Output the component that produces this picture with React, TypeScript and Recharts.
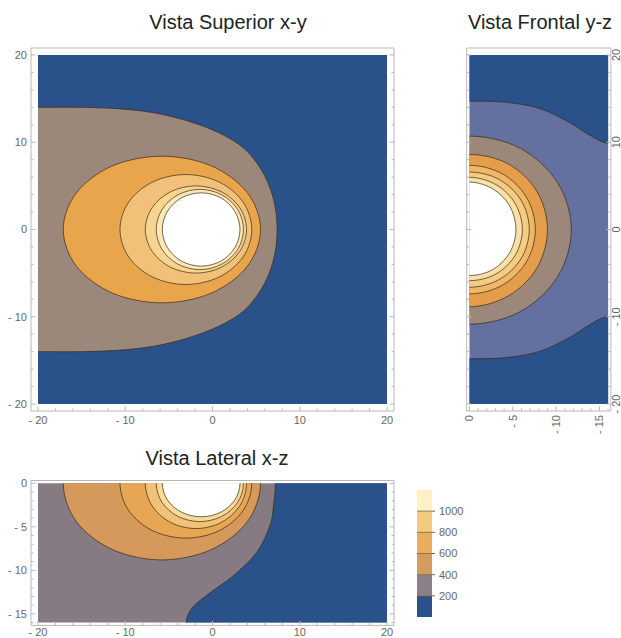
import React from "react";
import { ScatterChart, Scatter, XAxis, YAxis, BarChart, Bar, ReferenceLine } from "recharts";

type Pt = [number, number];
type Region = { curve: Pt[]; edge?: Pt[]; ring?: boolean; fill: string };
type XY = { x: number; y: number };

const FONT = '"Liberation Sans", Arial, Helvetica, sans-serif';
const LINE = "rgba(60,42,20,0.7)";
const FRAME = "#b8b8b8";
const LABEL = "#666";

// tick values
const XY_MAJOR = [-20, -10, 0, 10, 20];
const XY_TICKS = [-20, -18, -16, -14, -12, -10, -8, -6, -4, -2, 0, 2, 4, 6, 8, 10, 12, 14, 16, 18, 20];
const Z_MAJOR = [0, -5, -10, -15];
const Z_TICKS = [0, -1, -2, -3, -4, -5, -6, -7, -8, -9, -10, -11, -12, -13, -14, -15, -16];

// ---- Vista Superior x-y (x, y) ----
const TOP_BG: Pt[] = [[-20, 20], [20, 20], [20, -20], [-20, -20]];
const TOP_GRAY: Pt[] = [[-20, 14], [-15, 14], [-11, 13.85], [-7.5, 13.5], [-4.5, 12.9], [-1.5, 12.0], [1.3, 10.8], [3.6, 9.3], [5.3, 7.3], [6.5, 5.0], [7.2, 2.5], [7.4, 0], [7.2, -2.5], [6.5, -5.0], [5.3, -7.3], [3.6, -9.3], [1.3, -10.8], [-1.5, -12.0], [-4.5, -12.9], [-7.5, -13.5], [-11, -13.85], [-15, -14], [-20, -14]];
const TOP_A: Pt[] = [[5.5, 0], [4.0, 4.2], [-0.15, 7.3], [-5.8, 8.4], [-11.45, 7.3], [-15.6, 4.2], [-17.1, 0], [-15.6, -4.2], [-11.45, -7.3], [-5.8, -8.4], [-0.15, -7.3], [4.0, -4.2]];
const TOP_B: Pt[] = [[4.5, 0], [3.5, 3.15], [0.73, 5.46], [-3.05, 6.3], [-6.83, 5.46], [-9.6, 3.15], [-10.6, 0], [-9.6, -3.15], [-6.83, -5.46], [-3.05, -6.3], [0.73, -5.46], [3.5, -3.15]];
const TOP_C: Pt[] = [[3.9, 0], [3.12, 2.5], [1.0, 4.33], [-1.9, 5.0], [-4.8, 4.33], [-6.92, 2.5], [-7.7, 0], [-6.92, -2.5], [-4.8, -4.33], [-1.9, -5.0], [1.0, -4.33], [3.12, -2.5]];
const TOP_D: Pt[] = [[3.55, 0], [2.88, 2.3], [1.05, 3.98], [-1.45, 4.6], [-3.95, 3.98], [-5.78, 2.3], [-6.45, 0], [-5.78, -2.3], [-3.95, -3.98], [-1.45, -4.6], [1.05, -3.98], [2.88, -2.3]];
const TOP_E: Pt[] = [[3.15, 0], [2.55, 2.1], [0.93, 3.64], [-1.3, 4.2], [-3.53, 3.64], [-5.15, 2.1], [-5.75, 0], [-5.15, -2.1], [-3.53, -3.64], [-1.3, -4.2], [0.93, -3.64], [2.55, -2.1]];

// ---- Vista Frontal y-z (z horizontal, y vertical) ----
const FRONT_BG: Pt[] = [[0, 20], [-16, 20], [-16, -20], [0, -20]];
const FRONT_BLUE_TOP: Pt[] = [[0, 14.7], [-4, 14.6], [-8, 13.9], [-11.5, 12.3], [-13.9, 10.8], [-16, 9.9]];
const FRONT_BLUE_TOP_EDGE: Pt[] = [[-16, 20], [0, 20]];
const FRONT_BLUE_BOT: Pt[] = [[0, -14.8], [-4, -14.7], [-8, -14.0], [-11.5, -12.4], [-13.9, -10.9], [-16, -10.0]];
const FRONT_BLUE_BOT_EDGE: Pt[] = [[-16, -20], [0, -20]];
const FRONT_G: Pt[] = [[0, 10.7], [-5.88, 9.3], [-10.18, 5.35], [-11.75, 0], [-10.18, -5.4], [-5.88, -9.4], [0, -10.85]];
const FRONT_O: Pt[] = [[0, 8.6], [-4.5, 7.5], [-7.79, 4.35], [-9.0, 0], [-7.79, -4.4], [-4.5, -7.6], [0, -8.85]];
const FRONT_L: Pt[] = [[0, 7.35], [-3.8, 6.38], [-6.58, 3.69], [-7.6, 0], [-6.58, -3.69], [-3.8, -6.38], [0, -7.38]];
const FRONT_M: Pt[] = [[0, 6.58], [-3.45, 5.72], [-5.98, 3.3], [-6.9, 0], [-5.98, -3.3], [-3.45, -5.72], [0, -6.62]];
const FRONT_P: Pt[] = [[0, 5.98], [-3.05, 5.15], [-5.28, 2.97], [-6.1, 0], [-5.28, -2.95], [-3.05, -5.1], [0, -5.86]];
const FRONT_W: Pt[] = [[0, 5.43], [-2.68, 4.66], [-4.64, 2.7], [-5.36, 0], [-4.64, -2.66], [-2.68, -4.6], [0, -5.28]];

// ---- Vista Lateral x-z (x, z) ----
const SIDE_BG: Pt[] = [[-20, 0], [20, 0], [20, -16], [-20, -16]];
const SIDE_BLUE: Pt[] = [[7.2, 0], [7.0, -2.5], [6.6, -4.8], [5.1, -7.9], [2.4, -10.6], [-0.7, -12.9], [-2.4, -14.4], [-3.0, -16]];
const SIDE_BLUE_EDGE: Pt[] = [[20, -16], [20, 0]];
const SIDE_A: Pt[] = [[5.5, 0], [4.0, -4.4], [-0.15, -7.62], [-5.8, -8.8], [-11.45, -7.62], [-15.6, -4.4], [-17.1, 0]];
const SIDE_B: Pt[] = [[4.5, 0], [3.49, -3.15], [0.73, -5.46], [-3.05, -6.3], [-6.83, -5.46], [-9.59, -3.15], [-10.6, 0]];
const SIDE_C: Pt[] = [[3.9, 0], [3.12, -2.6], [1.0, -4.5], [-1.9, -5.2], [-4.8, -4.5], [-6.92, -2.6], [-7.7, 0]];
const SIDE_D: Pt[] = [[3.55, 0], [2.88, -2.2], [1.05, -3.81], [-1.45, -4.4], [-3.95, -3.81], [-5.78, -2.2], [-6.45, 0]];
const SIDE_E: Pt[] = [[3.15, 0], [2.55, -1.93], [0.93, -3.33], [-1.3, -3.85], [-3.53, -3.33], [-5.15, -1.93], [-5.75, 0]];

// legend
const LEGEND_BANDS = [200, 200, 200, 200, 200, 200];
const LEGEND_TICKS = [200, 400, 600, 800, 1000];
const LEGEND_COLORS = ["#2a538c", "#8b8088", "#d59c61", "#e9ad5e", "#f4c981", "#fdf1c4"];

const BLUE = "#29518a";

const TOP_REGIONS: Region[] = [
  { curve: [], edge: TOP_BG, fill: BLUE },
  { curve: TOP_GRAY, fill: "#9b887b" },
  { curve: TOP_A, ring: true, fill: "#e9a54c" },
  { curve: TOP_B, ring: true, fill: "#f1c17a" },
  { curve: TOP_C, ring: true, fill: "#f7d591" },
  { curve: TOP_D, ring: true, fill: "#fbe8b6" },
  { curve: TOP_E, ring: true, fill: "#ffffff" },
];

const FRONT_REGIONS: Region[] = [
  { curve: [], edge: FRONT_BG, fill: "#6470a0" },
  { curve: FRONT_BLUE_TOP, edge: FRONT_BLUE_TOP_EDGE, fill: BLUE },
  { curve: FRONT_BLUE_BOT, edge: FRONT_BLUE_BOT_EDGE, fill: BLUE },
  { curve: FRONT_G, fill: "#9b887b" },
  { curve: FRONT_O, fill: "#e49e4b" },
  { curve: FRONT_L, fill: "#eeb866" },
  { curve: FRONT_M, fill: "#f5cc84" },
  { curve: FRONT_P, fill: "#f9e0a7" },
  { curve: FRONT_W, fill: "#ffffff" },
];

const SIDE_REGIONS: Region[] = [
  { curve: [], edge: SIDE_BG, fill: "#867b83" },
  { curve: SIDE_BLUE, edge: SIDE_BLUE_EDGE, fill: BLUE },
  { curve: SIDE_A, fill: "#d4995b" },
  { curve: SIDE_B, fill: "#e6a653" },
  { curve: SIDE_C, fill: "#f0c177" },
  { curve: SIDE_D, fill: "#f8da98" },
  { curve: SIDE_E, fill: "#ffffff" },
];

const fmt = (v: number) => (v < 0 ? `- ${-v}` : `${v}`);

function reflect(q: XY, a: XY, b: XY): XY {
  const dx = b.x - a.x;
  const dy = b.y - a.y;
  const l2 = dx * dx + dy * dy || 1;
  const t = ((q.x - a.x) * dx + (q.y - a.y) * dy) / l2;
  const px = a.x + t * dx;
  const py = a.y + t * dy;
  return { x: 2 * px - q.x, y: 2 * py - q.y };
}

// smooth path through contour points (Catmull-Rom); open ends meet the frame edge square
function curvePath(c: XY[], ring: boolean, prev: XY, next: XY): string {
  const n = c.length;
  const at = (i: number): XY => {
    if (ring) return c[((i % n) + n) % n];
    if (i < 0) return reflect(c[1], c[0], prev);
    if (i >= n) return reflect(c[n - 2], c[n - 1], next);
    return c[i];
  };
  let d = `M${c[0].x},${c[0].y}`;
  const segs = ring ? n : n - 1;
  for (let i = 0; i < segs; i++) {
    const p0 = at(i - 1), p1 = at(i), p2 = at(i + 1), p3 = at(i + 2);
    const c1x = p1.x + (p2.x - p0.x) / 6, c1y = p1.y + (p2.y - p0.y) / 6;
    const c2x = p2.x - (p3.x - p1.x) / 6, c2y = p2.y - (p3.y - p1.y) / 6;
    d += `C${c1x},${c1y} ${c2x},${c2y} ${p2.x},${p2.y}`;
  }
  return d;
}

const contourLine = (region: Region) => (props: any) => {
  const n = region.curve.length;
  const pts: XY[] = (props.points || []).map((p: any) => ({ x: p.x, y: p.y }));
  const c = pts.slice(0, n);
  const e = pts.slice(n);
  let fillD = "";
  let strokeD = "";
  if (n === 0) {
    fillD = "M" + e.map((p) => `${p.x},${p.y}`).join("L") + "Z";
  } else {
    const prev = e.length ? e[e.length - 1] : c[n - 1];
    const next = e.length ? e[0] : c[0];
    strokeD = curvePath(c, !!region.ring, prev, next) + (region.ring ? "Z" : "");
    fillD = strokeD + e.map((p) => `L${p.x},${p.y}`).join("") + (region.ring ? "" : "Z");
  }
  return (
    <g>
      <path d={fillD} fill={region.fill} stroke="none" />
      {strokeD && <path d={strokeD} fill="none" stroke={LINE} strokeWidth={1} />}
    </g>
  );
};

const noDot = () => <g />;

const textStyle = { fontSize: 11, fill: LABEL, fontFamily: FONT, stroke: "none" };

const frameTick = (side: string, majors: number[], label: "none" | "plain" | "rot", off = 13) => (p: any) => {
  const { x, y } = p;
  const v = p.payload?.value;
  const major = majors.includes(v);
  const len = major ? 4.5 : 2.5;
  const txt = fmt(v);
  let line = null;
  let text = null;
  if (side === "bottom") {
    line = <line x1={x} y1={y} x2={x} y2={y - len} />;
    if (major && label === "plain")
      text = <text x={x} y={y + off} textAnchor="middle" {...textStyle}>{txt}</text>;
    if (major && label === "rot")
      text = <text transform={`translate(${x},${y + 4}) rotate(-90)`} textAnchor="end" dy="0.35em" {...textStyle}>{txt}</text>;
  } else if (side === "top") {
    line = <line x1={x} y1={y} x2={x} y2={y + len} />;
  } else if (side === "left") {
    line = <line x1={x} y1={y} x2={x + len} y2={y} />;
    if (major && label === "plain")
      text = <text x={x - 4} y={y} dy="0.35em" textAnchor="end" {...textStyle}>{txt}</text>;
  } else {
    line = <line x1={x} y1={y} x2={x - len} y2={y} />;
    if (major && label === "rot")
      text = <text transform={`translate(${x + 5.5},${y}) rotate(-90)`} textAnchor="middle" dy="0.35em" {...textStyle}>{txt}</text>;
  }
  return (
    <g stroke={FRAME} strokeWidth={1}>
      {line}
      {text}
    </g>
  );
};

const toData = (r: Region) => [...r.curve, ...(r.edge || [])].map(([x, y]) => ({ x, y }));

function renderRegions(regions: Region[]) {
  return regions.map((r, i) => (
    <Scatter key={i} data={toData(r)} line={contourLine(r)} shape={noDot} isAnimationActive={false} />
  ));
}

const axisCommon = {
  type: "number" as const,
  allowDataOverflow: true,
  interval: 0 as const,
  tickSize: 0,
  tickMargin: 0,
  tickLine: false,
  axisLine: { stroke: FRAME },
};

const titleStyle = (cx: number, cy: number): React.CSSProperties => ({
  position: "absolute",
  left: cx - 150,
  top: cy - 12,
  width: 300,
  textAlign: "center",
  fontSize: 20,
  lineHeight: "24px",
  color: "#222",
  fontFamily: FONT,
});

export default function App() {
  const legendRow = [
    LEGEND_BANDS.reduce((acc: any, v, i) => ({ ...acc, [`b${i}`]: v }), { name: "scale" }),
  ];
  return (
    <div style={{ position: "absolute", left: 0, top: 0, width: 621, height: 638, overflow: "hidden", background: "#fff", fontFamily: FONT }}>
      <div style={titleStyle(228, 22)}>Vista Superior x-y</div>
      <div style={titleStyle(540, 22)}>Vista Frontal y-z</div>
      <div style={titleStyle(217, 458)}>Vista Lateral x-z</div>

      <div style={{ position: "absolute", left: 0, top: 0 }}>
        <ScatterChart width={400} height={440} margin={{ top: 38, right: 0, bottom: 0, left: 0 }}>
          <XAxis {...axisCommon} dataKey="x" domain={[-20.8, 20.8]} ticks={XY_TICKS} height={29} tick={frameTick("bottom", XY_MAJOR, "plain")} />
          <XAxis {...axisCommon} xAxisId="top" orientation="top" domain={[-20.8, 20.8]} ticks={XY_TICKS} height={10} tick={frameTick("top", XY_MAJOR, "none")} />
          <YAxis {...axisCommon} dataKey="y" domain={[-20.8, 20.8]} ticks={XY_TICKS} width={31} tick={frameTick("left", XY_MAJOR, "plain")} />
          <YAxis {...axisCommon} yAxisId="right" orientation="right" domain={[-20.8, 20.8]} ticks={XY_TICKS} width={6} tick={frameTick("right", XY_MAJOR, "none")} />
          {renderRegions(TOP_REGIONS)}
        </ScatterChart>
      </div>

      <div style={{ position: "absolute", left: 446, top: 0 }}>
        <ScatterChart width={175} height={440} margin={{ top: 38, right: 0, bottom: 0, left: 0 }}>
          <XAxis {...axisCommon} dataKey="x" domain={[-16.32, 0.32]} reversed ticks={Z_TICKS} height={29} tick={frameTick("bottom", Z_MAJOR, "rot")} />
          <XAxis {...axisCommon} xAxisId="top" orientation="top" domain={[-16.32, 0.32]} reversed ticks={Z_TICKS} height={10} tick={frameTick("top", Z_MAJOR, "none")} />
          <YAxis {...axisCommon} dataKey="y" domain={[-20.8, 20.8]} ticks={XY_TICKS} width={20.7} tick={frameTick("left", XY_MAJOR, "none")} />
          <YAxis {...axisCommon} yAxisId="right" orientation="right" domain={[-20.8, 20.8]} ticks={XY_TICKS} width={10.1} tick={frameTick("right", XY_MAJOR, "rot")} />
          {renderRegions(FRONT_REGIONS)}
        </ScatterChart>
      </div>

      <div style={{ position: "absolute", left: 0, top: 440 }}>
        <ScatterChart width={400} height={198} margin={{ top: 30.5, right: 0, bottom: 0, left: 0 }}>
          <XAxis {...axisCommon} dataKey="x" domain={[-20.8, 20.8]} ticks={XY_TICKS} height={12.6} tick={frameTick("bottom", XY_MAJOR, "plain", 10.5)} />
          <XAxis {...axisCommon} xAxisId="top" orientation="top" domain={[-20.8, 20.8]} ticks={XY_TICKS} height={10} tick={frameTick("top", XY_MAJOR, "none")} />
          <YAxis {...axisCommon} dataKey="y" domain={[-16.32, 0.32]} ticks={Z_TICKS} width={31} tick={frameTick("left", Z_MAJOR, "plain")} />
          <YAxis {...axisCommon} yAxisId="right" orientation="right" domain={[-16.32, 0.32]} ticks={Z_TICKS} width={6} tick={frameTick("right", Z_MAJOR, "none")} />
          {renderRegions(SIDE_REGIONS)}
        </ScatterChart>
      </div>

      <div style={{ position: "absolute", left: 417, top: 480 }}>
        <BarChart width={60} height={150} data={legendRow} margin={{ top: 10, right: 0, bottom: 13, left: 0 }} barCategoryGap={0} barGap={0}>
          <XAxis dataKey="name" hide />
          <YAxis
            orientation="right"
            width={45}
            domain={[0, 1200]}
            ticks={LEGEND_TICKS}
            interval={0}
            axisLine={false}
            tickLine={{ stroke: "#7a6040" }}
            tickSize={3}
            tickMargin={4}
            tick={{ fontSize: 11, fill: LABEL, fontFamily: FONT }}
          />
          {LEGEND_BANDS.map((_, i) => (
            <Bar key={i} dataKey={`b${i}`} stackId="s" fill={LEGEND_COLORS[i]} isAnimationActive={false} />
          ))}
          {LEGEND_TICKS.map((t) => (
            <ReferenceLine key={t} y={t} stroke="#7a6040" strokeOpacity={0.8} />
          ))}
        </BarChart>
      </div>
    </div>
  );
}
